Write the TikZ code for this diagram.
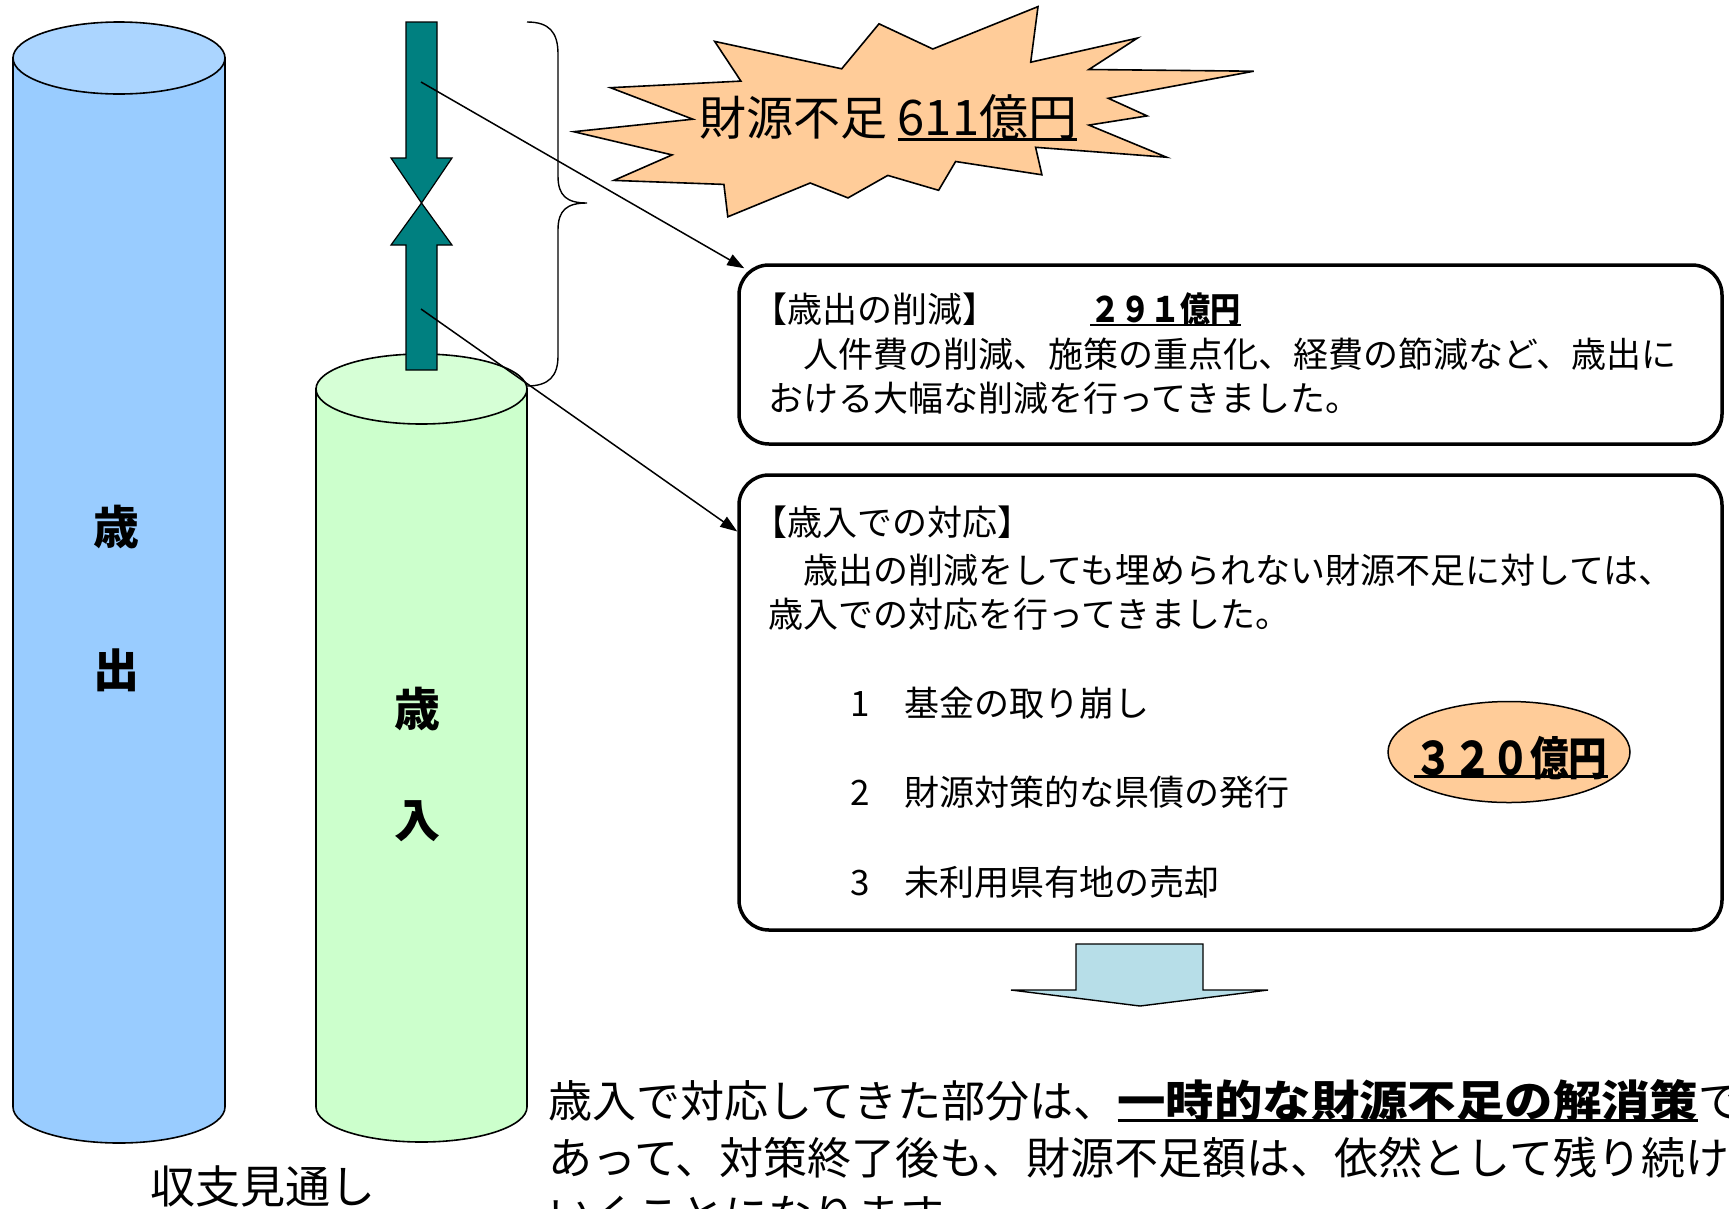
\documentclass[tikz,border=0pt]{standalone}
\usepackage{fontspec}
\setmainfont{Noto Sans CJK JP}
\usepackage{graphicx}
\usetikzlibrary{arrows.meta,shapes.geometric,calc}
\definecolor{sideblue}{HTML}{99CCFF}
\definecolor{topblue}{HTML}{ABD5FF}
\definecolor{sidegreen}{HTML}{CCFFCC}
\definecolor{topgreen}{HTML}{D6FFD6}
\definecolor{tealbar}{HTML}{008080}
\definecolor{peach}{HTML}{FFCC99}
\definecolor{arrowfill}{HTML}{B7DEE8}
\newcommand{\thickul}[3]{\setbox0=\hbox{#3}\rlap{\rule[#1]{\wd0}{#2}}\box0}
\begin{document}
\begin{tikzpicture}[x=1pt,y=-1pt,
  cyl/.style={draw=black,line width=1.6pt},
  tealshape/.style={draw=black,line width=1.2pt,fill=tealbar},
  infobox/.style={draw=black,line width=3.5pt,rounded corners=30pt,inner sep=0pt,minimum width=983pt},
  boxtxt/.style={anchor=base west,inner sep=0pt,font=\fontsize{35pt}{42pt}\selectfont},
  bigtxt/.style={anchor=base west,inner sep=0pt,font=\fontsize{44pt}{50pt}\selectfont},
  cyltxt/.style={inner sep=0pt,font=\fontsize{46pt}{52pt}\selectfont\bfseries},
  pointer/.style={line width=1.5pt,-{Triangle[length=17pt,width=12pt]}}]
\useasboundingbox (0,0) rectangle (1729,1208);
\clip (0,0) rectangle (1729,1208);
\fill[white] (0,0) rectangle (1729,1208);

% left cylinder (expenditure)
\path[cyl,fill=sideblue] (13,58) -- (13,1107) .. controls (13,1126.9) and (60.5,1143) .. (119,1143)
  .. controls (177.5,1143) and (225,1126.9) .. (225,1107) -- (225,58) -- cycle;
\draw[cyl,fill=topblue] (119,58) ellipse [x radius=106, y radius=36];
\node[cyltxt] (lsai) at (116,527) {歳};
\node[cyltxt] (lshutsu) at (116,670) {出};

% right cylinder (revenue)
\path[cyl,fill=sidegreen] (316,389) -- (316,1107) .. controls (316,1126.3) and (363.2,1142) .. (421.5,1142)
  .. controls (479.8,1142) and (527,1126.3) .. (527,1107) -- (527,389) -- cycle;
\draw[cyl,fill=topgreen] (421.5,389) ellipse [x radius=105.5, y radius=35];
\node[cyltxt] (rsai) at (417,709) {歳};
\node[cyltxt] (rnyu) at (417,821) {入};

% teal arrows
\draw[tealshape] (406,22) -- (437,22) -- (437,158) -- (452,158) -- (421.5,203) -- (391,158) -- (406,158) -- cycle;
\draw[tealshape] (421.5,203) -- (452,245) -- (437,245) -- (437,370) -- (406,370) -- (406,245) -- (391,245) -- cycle;

% brace
\draw[line width=1.4pt] (527,22) .. controls (549,22) and (558,32) .. (558,54) -- (558,176)
  .. controls (558,196) and (567,203) .. (587,203)
  .. controls (567,203) and (558,210) .. (558,230) -- (558,356)
  .. controls (558,376) and (549,386) .. (527,386);

% starburst
\draw[line width=1.6pt,fill=peach,line join=miter]
  (1038,6.6) -- (1030.7,62.2) -- (1137.4,38.1) -- (1088.9,69.5) -- (1253.7,71.2) -- (1108.3,98.3)
  -- (1147.1,115.9) -- (1088.9,125.1) -- (1166.5,157.2) -- (1035.6,147.3) -- (1041.9,174.8)
  -- (955.6,161.5) -- (938.6,190.3) -- (887.8,175.4) -- (848,197.9) -- (810.2,183) -- (727.8,216.8)
  -- (723.9,184.4) -- (613.9,180.4) -- (672.1,154.9) -- (573.7,131.7) -- (692.9,119.2)
  -- (610.5,87.7) -- (740.9,81.1) -- (714.7,41.4) -- (841.7,68.8) -- (879,23.8) -- (932.8,49) -- cycle;
\node[anchor=base west,inner sep=0pt,font=\fontsize{47pt}{54pt}\selectfont] (shortfall) at (699,135)
  {財源不足 \thickul{-6pt}{3pt}{\fontsize{49pt}{54pt}\selectfont 611億円}};

% boxes
\node[infobox,minimum height=179pt] (box1) at (1230.5,354.5) {};
\node[infobox,minimum height=455pt] (box2) at (1230.5,702.5) {};

\node[boxtxt] (b1l1) at (752,322) {【歳出の削減】};
\node[boxtxt] (b1amt) at (1090,322) {\bfseries\thickul{-4pt}{2.5pt}{\scalebox{0.86}[1]{２９１億円}}};
\node[boxtxt] (b1l2) at (768,367) {　人件費の削減、施策の重点化、経費の節減など、歳出に};
\node[boxtxt] (b1l3) at (768,411) {おける大幅な削減を行ってきました。};

\node[boxtxt] (b2l1) at (752,535) {【歳入での対応】};
\node[boxtxt] (b2l2) at (768,583) {　歳出の削減をしても埋められない財源不足に対しては、};
\node[boxtxt] (b2l3) at (768,627) {歳入での対応を行ってきました。};
\node[boxtxt] (b2i1) at (850,716) {1　基金の取り崩し};
\node[boxtxt] (b2i2) at (850,805) {2　財源対策的な県債の発行};
\node[boxtxt] (b2i3) at (850,895) {3　未利用県有地の売却};

\node[ellipse,draw=black,line width=1.5pt,fill=peach,minimum width=242pt,minimum height=101pt,inner sep=0pt] (e320) at (1509,752) {};
\node[anchor=base,inner sep=0pt,font=\fontsize{46pt}{52pt}\selectfont\bfseries] (amt320) at (1511,775)
  {\thickul{-3pt}{3pt}{\scalebox{0.84}[1]{３２０億円}}};

% pointers
\coordinate (s1) at (421,82);
\coordinate (s2) at (421,309);
\draw[pointer] (s1) -- ($(box1.north west)+(7,5)$);
\draw[pointer] (s2) -- ($(box2.north west)!0.127!(box2.south west)$);

% down block arrow
\draw[line width=1.4pt,fill=arrowfill,line join=miter] (1076,944) -- (1203,944) -- (1203,990) -- (1268,990)
  -- (1140,1006) -- (1011,990) -- (1076,990) -- cycle;

% bottom text
\node[bigtxt] (conc1) at (548,1117) {歳入で対応してきた部分は、{\bfseries\thickul{-5pt}{3pt}{\scalebox{1.1}[1]{一時的な財源不足の解消策}}}で};
\node[bigtxt] (conc2) at (548,1174) {あって、対策終了後も、財源不足額は、依然として残り続けて};
\node[bigtxt] (conc3) at (548,1231) {いくことになります。};

\node[anchor=base,inner sep=0pt,font=\fontsize{45pt}{52pt}\selectfont] (caption) at (263,1203) {収支見通し};
\end{tikzpicture}
\end{document}
